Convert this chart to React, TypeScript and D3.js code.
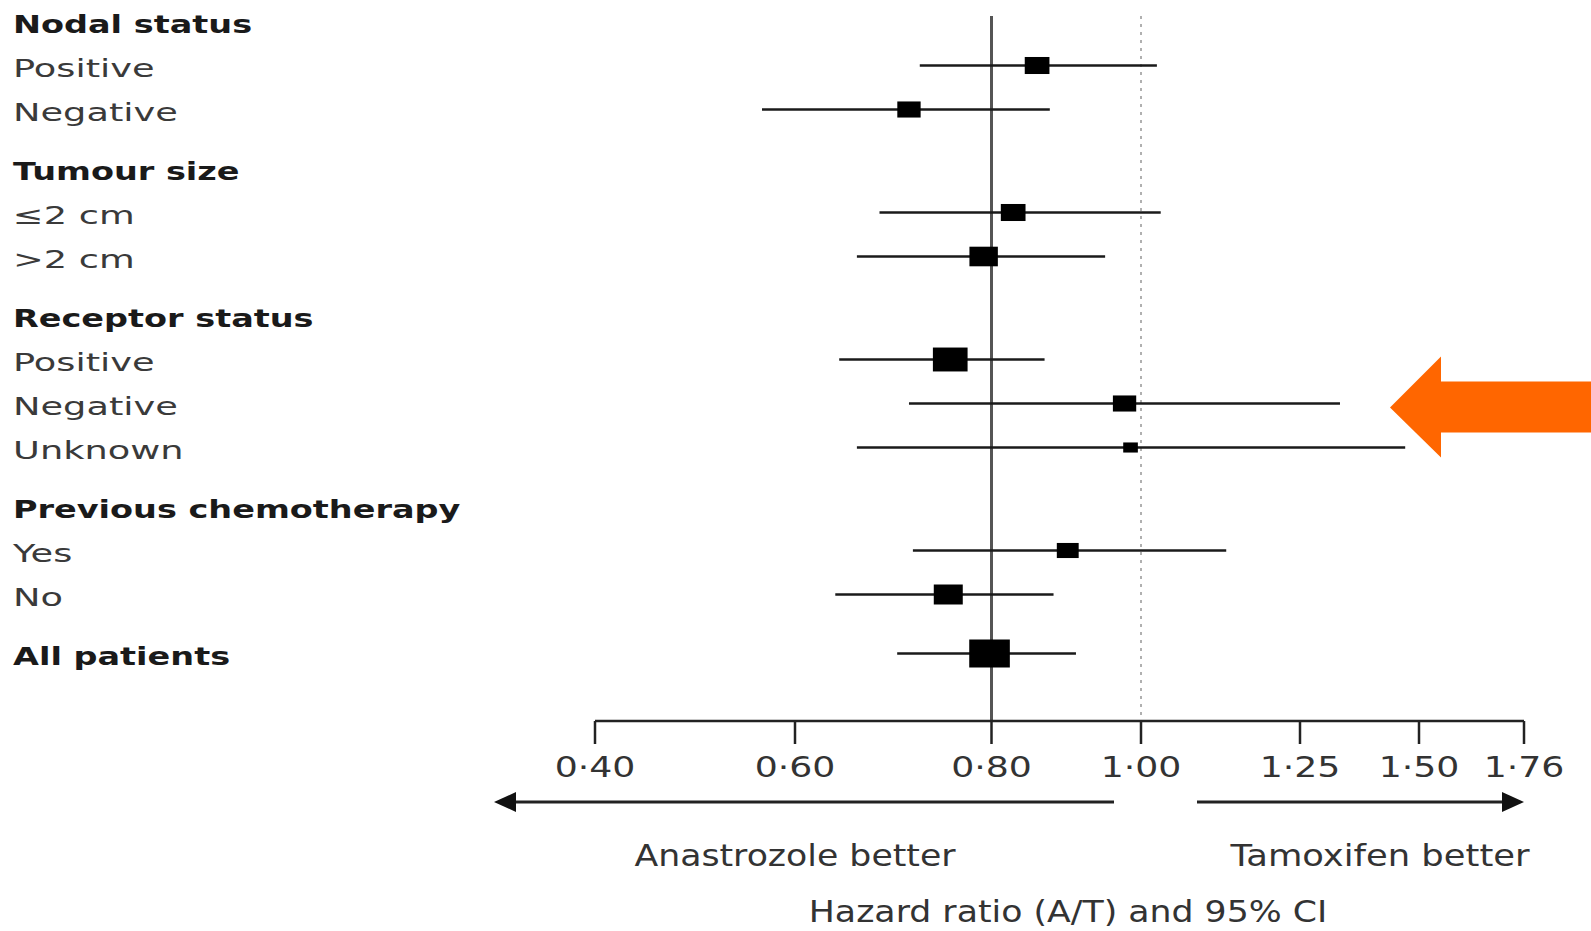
import React from "react";
import * as d3 from "d3";

// subgroup rows (headers have no estimate)
const rowLabels = [
  "Nodal status", "Positive", "Negative",
  "Tumour size", "≤2 cm", ">2 cm",
  "Receptor status", "Positive", "Negative", "Unknown",
  "Previous chemotherapy", "Yes", "No",
  "All patients",
];
const rowIsHeader = [true, false, false, true, false, false, true, false, false, false, true, false, false, true];
const rowGroup = [0, 0, 0, 1, 1, 1, 2, 2, 2, 2, 3, 3, 3, 4];

// hazard ratio (A/T), 95% CI and relative weight, null for header rows
const hazardRatio = [null, 0.861, 0.716, null, 0.829, 0.792, null, 0.758, 0.978, 0.986, null, 0.902, 0.756, 0.798];
const ciLow = [null, 0.727, 0.567, null, 0.686, 0.663, null, 0.645, 0.716, 0.663, null, 0.72, 0.641, 0.704];
const ciHigh = [null, 1.025, 0.878, null, 1.031, 0.952, null, 0.871, 1.334, 1.471, null, 1.134, 0.883, 0.913];
const weight = [null, 37, 33, null, 37, 49, null, 73, 33, 13, null, 29, 51, 100];

const xTicks = [0.4, 0.6, 0.8, 1.0, 1.25, 1.5, 1.76];
const overallHR = 0.8;

const W = 1591;
const H = 931;
const font = "'DejaVu Sans', Verdana, sans-serif";

export default function App() {
  // axis in the figure is not evenly spaced, so map tick by tick
  const x = d3.scaleLinear()
    .domain(xTicks)
    .range([595, 795, 991.5, 1141, 1300, 1419, 1524]);

  const y = (i: number) => 23.5 + i * 44 + rowGroup[i] * 15;
  const boxH = d3.scaleSqrt().domain([0, 100]).range([0, 28]);
  const fmt = (v: number) => d3.format(".2f")(v).replace(".", "·");

  const axisY = 721;
  const topY = 16;
  const arrowY = 802;
  const arrowRowY = y(8);

  return (
    <svg width={W} height={H} style={{ position: "absolute", left: 0, top: 0, background: "#fff" }}>
      {/* row labels */}
      {rowLabels.map((t, i) => (
        <text
          key={"l" + i}
          transform={`translate(13,${y(i)}) scale(${rowIsHeader[i] ? 1.34 : 1.47},1)`}
          dy="0.36em"
          fontFamily={font}
          fontSize={25}
          fontWeight={rowIsHeader[i] ? "bold" : "normal"}
          fill={rowIsHeader[i] ? "#1a1a1a" : "#3a3a3a"}
        >
          {t}
        </text>
      ))}

      {/* reference lines */}
      <line x1={x(1)} x2={x(1)} y1={topY} y2={axisY} stroke="#b0b0b0" strokeWidth={2} strokeDasharray="3,5" />
      <line x1={x(overallHR)} x2={x(overallHR)} y1={topY} y2={axisY} stroke="#555" strokeWidth={3} />

      {/* estimates */}
      {hazardRatio.map((hr, i) => {
        if (hr === null) return null;
        const h = boxH(weight[i] as number);
        const w = h * 1.45;
        const cy = y(i) - 2;
        return (
          <g key={"r" + i}>
            <line x1={x(ciLow[i] as number)} x2={x(ciHigh[i] as number)} y1={cy} y2={cy} stroke="#1a1a1a" strokeWidth={2.5} />
            <rect x={x(hr) - w / 2} y={cy - h / 2} width={w} height={h} fill="#000" />
          </g>
        );
      })}

      {/* x axis */}
      <line x1={x(xTicks[0])} x2={x(xTicks[xTicks.length - 1])} y1={axisY} y2={axisY} stroke="#222" strokeWidth={2.5} />
      {xTicks.map((t) => (
        <g key={"t" + t}>
          <line x1={x(t)} x2={x(t)} y1={axisY} y2={axisY + 23} stroke="#222" strokeWidth={2.5} />
          <text
            transform={`translate(${x(t)},${axisY + 56}) scale(1.25,1)`}
            textAnchor="middle"
            fontFamily={font}
            fontSize={29}
            fill="#333"
          >
            {fmt(t)}
          </text>
        </g>
      ))}

      {/* direction arrows */}
      <line x1={x(0.4) - 90} x2={x(1) - 27} y1={arrowY} y2={arrowY} stroke="#222" strokeWidth={3} />
      <path d={`M${x(0.4) - 101},${arrowY} l22,-10 l0,20 z`} fill="#111" />
      <line x1={x(1) + 56} x2={x(1.76) - 10} y1={arrowY} y2={arrowY} stroke="#222" strokeWidth={3} />
      <path d={`M${x(1.76)},${arrowY} l-22,-10 l0,20 z`} fill="#111" />

      <text transform={`translate(${x(0.6)},${arrowY + 64}) scale(1.12,1)`} textAnchor="middle" fontFamily={font} fontSize={31} fill="#333">
        Anastrozole better
      </text>
      <text transform={`translate(1380,${arrowY + 64}) scale(1.14,1)`} textAnchor="middle" fontFamily={font} fontSize={31} fill="#333">
        Tamoxifen better
      </text>
      <text transform={`translate(1068,${arrowY + 120}) scale(1.12,1)`} textAnchor="middle" fontFamily={font} fontSize={31} fill="#333">
        Hazard ratio (A/T) and 95% CI
      </text>

      {/* highlight arrow */}
      <path
        d={`M1390,${arrowRowY + 2} L1441,${arrowRowY - 49} L1441,${arrowRowY - 24} L${W},${arrowRowY - 24} L${W},${arrowRowY + 27} L1441,${arrowRowY + 27} L1441,${arrowRowY + 52} Z`}
        fill="#ff6600"
      />
    </svg>
  );
}
